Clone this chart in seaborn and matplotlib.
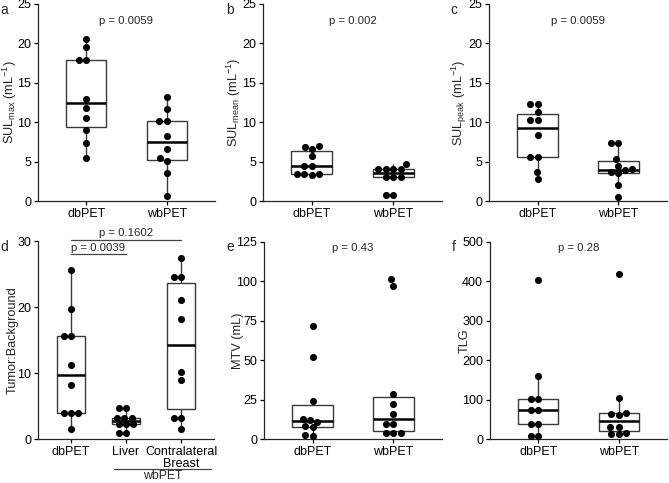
import numpy as np
import pandas as pd
import seaborn as sns
import matplotlib.pyplot as plt

# valores
groups2 = ["dbPET", "wbPET"]
groups3 = ["dbPET", "Liver", "Contralateral\nBreast"]

sulmax_db = [5.42, 7.33, 9.07, 10.55, 11.8, 12.97, 17.9, 17.9, 19.5, 20.55]
sulmax_wb = [0.64, 3.52, 5.1, 5.5, 6.65, 8.3, 10.2, 10.2, 11.65, 13.2]
sulmean_db = [3.35, 3.4, 3.4, 3.45, 4.45, 4.5, 5.65, 6.6, 6.9, 6.95]
sulmean_wb = [0.76, 0.76, 3.0, 3.0, 3.0, 4.07, 4.07, 4.07, 4.07, 4.66]
sulpeak_db = [2.8, 3.69, 5.55, 5.55, 8.35, 10.3, 10.3, 11.27, 12.25, 12.25]
sulpeak_wb = [0.55, 2.03, 3.5, 3.7, 3.9, 4.05, 4.49, 5.34, 7.33, 7.33]
tbr_db = [1.57, 3.99, 3.99, 3.99, 8.23, 11.16, 15.6, 15.6, 19.75, 25.6]
tbr_liver = [0.86, 0.86, 2.2, 2.2, 2.2, 3.25, 3.25, 3.25, 4.65, 4.65]
tbr_breast = [1.5, 3.13, 3.13, 8.94, 10.15, 18.2, 21.0, 24.5, 24.5, 27.5]
mtv_db = [2.0, 2.5, 7.5, 8.0, 11.0, 11.8, 13.0, 24.1, 51.8, 71.5]
mtv_wb = [4.0, 4.0, 4.0, 9.3, 9.3, 15.7, 22.2, 28.5, 97.0, 101.3]
tlg_db = [8.4, 8.4, 37.2, 37.2, 73.5, 73.5, 100.5, 100.5, 160.5, 404.6]
tlg_wb = [12.0, 13.5, 15.0, 31.2, 31.2, 62.0, 64.2, 66.0, 104.7, 418.0]

p_sulmax = "p = 0.0059"
p_sulmean = "p = 0.002"
p_sulpeak = "p = 0.0059"
p_mtv = "p = 0.43"
p_tlg = "p = 0.28"
p_liver = "p = 0.0039"
p_breast = "p = 0.1602"

sns.set_style("ticks")
plt.rcParams["font.family"] = ["Liberation Sans", "DejaVu Sans"]
plt.rcParams["mathtext.default"] = "regular"
plt.rcParams["axes.linewidth"] = 0.9

W, H = 669, 483
fig = plt.figure(figsize=(W / 100, H / 100), dpi=100)


def rect(x0, x1, ytop, ybot):
    return [x0 / W, 1 - ybot / H, (x1 - x0) / W, (ybot - ytop) / H]


def panel(ax, groups, series, ylabel, ymax, ystep, ptext=None, ptext_y=None):
    df = pd.DataFrame({
        "group": np.repeat(groups, [len(s) for s in series]),
        "value": np.concatenate(series),
    })
    sns.boxplot(data=df, x="group", y="value", order=groups, ax=ax,
                width=0.5, color="white", linecolor="#3a3a3a", linewidth=1,
                showfliers=False, showcaps=False,
                medianprops={"color": "black", "linewidth": 1.8})
    sns.swarmplot(data=df, x="group", y="value", order=groups, ax=ax,
                  color="black", size=5.1, zorder=3)
    ax.set_ylim(0, ymax)
    ax.set_yticks(np.arange(0, ymax + 1, ystep))
    ax.set_xlim(-0.6, len(groups) - 0.4)
    ax.set_xlabel("")
    ax.set_ylabel(ylabel, fontsize=9.2)
    ax.yaxis.set_label_coords(-0.11, 0.5)
    ax.tick_params(labelsize=9, length=3, width=0.9, colors="black", pad=2)
    for t in ax.get_xticklabels():
        t.set_linespacing(1.0)
    sns.despine(ax=ax)
    if ptext:
        ax.text(0.5, ptext_y, ptext, ha="center", va="center", fontsize=8.2)


ax_a = fig.add_axes(rect(38, 215, 4, 201))
panel(ax_a, groups2, [sulmax_db, sulmax_wb], r"SUL$_{max}$ (mL$^{-1}$)", 25, 5, p_sulmax, 22.9)
ax_b = fig.add_axes(rect(263, 442, 4, 201))
panel(ax_b, groups2, [sulmean_db, sulmean_wb], r"SUL$_{mean}$ (mL$^{-1}$)", 25, 5, p_sulmean, 22.9)
ax_c = fig.add_axes(rect(489, 667, 4, 201))
panel(ax_c, groups2, [sulpeak_db, sulpeak_wb], r"SUL$_{peak}$ (mL$^{-1}$)", 25, 5, p_sulpeak, 22.9)

ax_d = fig.add_axes(rect(38, 214, 241, 439))
panel(ax_d, groups3, [tbr_db, tbr_liver, tbr_breast], "Tumor:Background", 30, 10)
ax_e = fig.add_axes(rect(264, 442, 242, 439))
panel(ax_e, groups2, [mtv_db, mtv_wb], "MTV (mL)", 125, 25, p_mtv, 121.5)
ax_f = fig.add_axes(rect(490, 667, 242, 439))
panel(ax_f, groups2, [tlg_db, tlg_wb], "TLG", 500, 100, p_tlg, 486)

# comparaciones en d
for x0, x1, yl, txt in [(0, 1, 28.0, p_liver), (0, 2, 30.15, p_breast)]:
    ax_d.plot([x0, x1], [yl, yl], color="#444444", lw=0.9, clip_on=False)
    ax_d.text((x0 + x1) / 2, yl + 0.25, txt, ha="center", va="bottom", fontsize=8.2)

# agrupacion wbPET bajo el eje
trans = ax_d.get_xaxis_transform()
ax_d.plot([0.78, 2.55], [-0.154, -0.154], color="#444444", lw=0.9,
          transform=trans, clip_on=False)
ax_d.text(1.665, -0.188, "wbPET", ha="center", va="center", fontsize=8.8, transform=trans)

for letter, (x, y) in zip("abcdef", [(4, 10), (230, 10), (454, 10),
                                      (4, 247), (230, 247), (454, 247)]):
    fig.text(x / W, 1 - y / H, letter, ha="center", va="center", fontsize=10)

plt.savefig("out.png", dpi=100)
